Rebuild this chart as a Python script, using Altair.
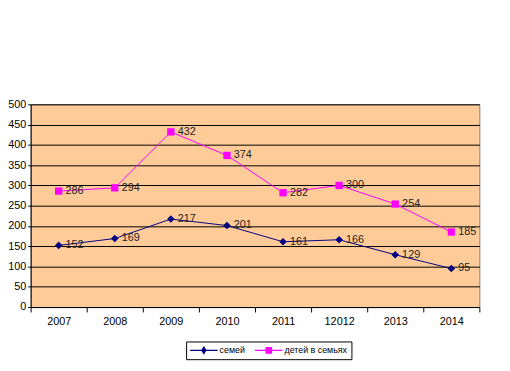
import altair as alt
import pandas as pd

years = ["2007", "2008", "2009", "2010", "2011", "12012", "2013", "2014"]
families = [152, 169, 217, 201, 161, 166, 129, 95]
children = [286, 294, 432, 374, 282, 300, 254, 185]
series_names = ["семей", "детей в семьях"]
series_colors = ["#000080", "#FF00FF"]

rows = []
for y, f, c in zip(years, families, children):
    rows.append({"year": y, "value": f, "series": series_names[0]})
    rows.append({"year": y, "value": c, "series": series_names[1]})
df = pd.DataFrame(rows)

FONT = "Liberation Sans"

x_enc = alt.X("year:N", sort=years, title=None,
              scale=alt.Scale(type="band", paddingInner=0, paddingOuter=0),
              axis=alt.Axis(labelAngle=0, tickBand="extent", tickSize=5, domainColor="black",
                            tickColor="black", labelFont=FONT, labelFontSize=11,
                            labelColor="black", labelPadding=4, grid=False))
y_enc = alt.Y("value:Q", title=None,
              scale=alt.Scale(domain=[0, 500], nice=False),
              axis=alt.Axis(values=list(range(0, 501, 50)), tickSize=3, domainColor="black",
                            tickColor="black", gridColor="black", gridOpacity=1, gridWidth=1,
                            labelFont=FONT, labelFontSize=11, labelColor="black",
                            labelPadding=2))
color_enc = alt.Color("series:N", scale=alt.Scale(domain=series_names, range=series_colors),
                      legend=None)

base = alt.Chart(df)

lines = base.mark_line(strokeWidth=1).encode(x=x_enc, y=y_enc, color=color_enc)

pts_f = base.transform_filter(alt.datum.series == series_names[0]).mark_point(
    shape="diamond", filled=True, size=60, opacity=1
).encode(x=x_enc, y=y_enc, color=color_enc)

pts_c = base.transform_filter(alt.datum.series == series_names[1]).mark_point(
    shape="square", filled=True, size=55, opacity=1
).encode(x=x_enc, y=y_enc, color=color_enc)

labels = base.mark_text(align="left", baseline="middle", dx=7, font=FONT, fontSize=11,
                        color="#222222").encode(x=x_enc, y=y_enc, text="value:Q")

path_f = "M-1,-0.04H1V0.04H-1Z M0,-0.32L0.2,0L0,0.32L-0.2,0Z"
path_c = "M-1,-0.04H1V0.04H-1Z M-0.24,-0.24H0.24V0.24H-0.24Z"

leg = alt.Legend(title=None, orient="none", legendX=158, legendY=241,
                 direction="horizontal", symbolSize=784,
                 symbolStrokeWidth=0, symbolOpacity=1,
                 clipHeight=10,
                 labelFont=FONT, labelFontSize=9, labelColor="black",
                 labelOffset=2, columnPadding=10,
                 strokeColor="black", fillColor="white",
                 padding=4, cornerRadius=0)

legend_layer = base.transform_filter("false").mark_point(filled=True).encode(
    x=x_enc, y=y_enc,
    color=alt.Color("series:N", scale=alt.Scale(domain=series_names, range=series_colors),
                    legend=leg),
    shape=alt.Shape("series:N", scale=alt.Scale(domain=series_names, range=[path_f, path_c]),
                    legend=leg),
)

chart = alt.layer(lines, pts_f, pts_c, labels, legend_layer).resolve_scale(
    shape="independent", color="independent"
).properties(
    width=456, height=206,
    autosize=alt.AutoSizeParams(type="none"),
    padding={"left": 23, "top": 95, "right": 23, "bottom": 55},
    background="white",
).configure_view(
    fill="#FFCC99", stroke="#808080", strokeWidth=1
)

chart.save("out.html", embed_options={"renderer": "svg", "actions": False})
